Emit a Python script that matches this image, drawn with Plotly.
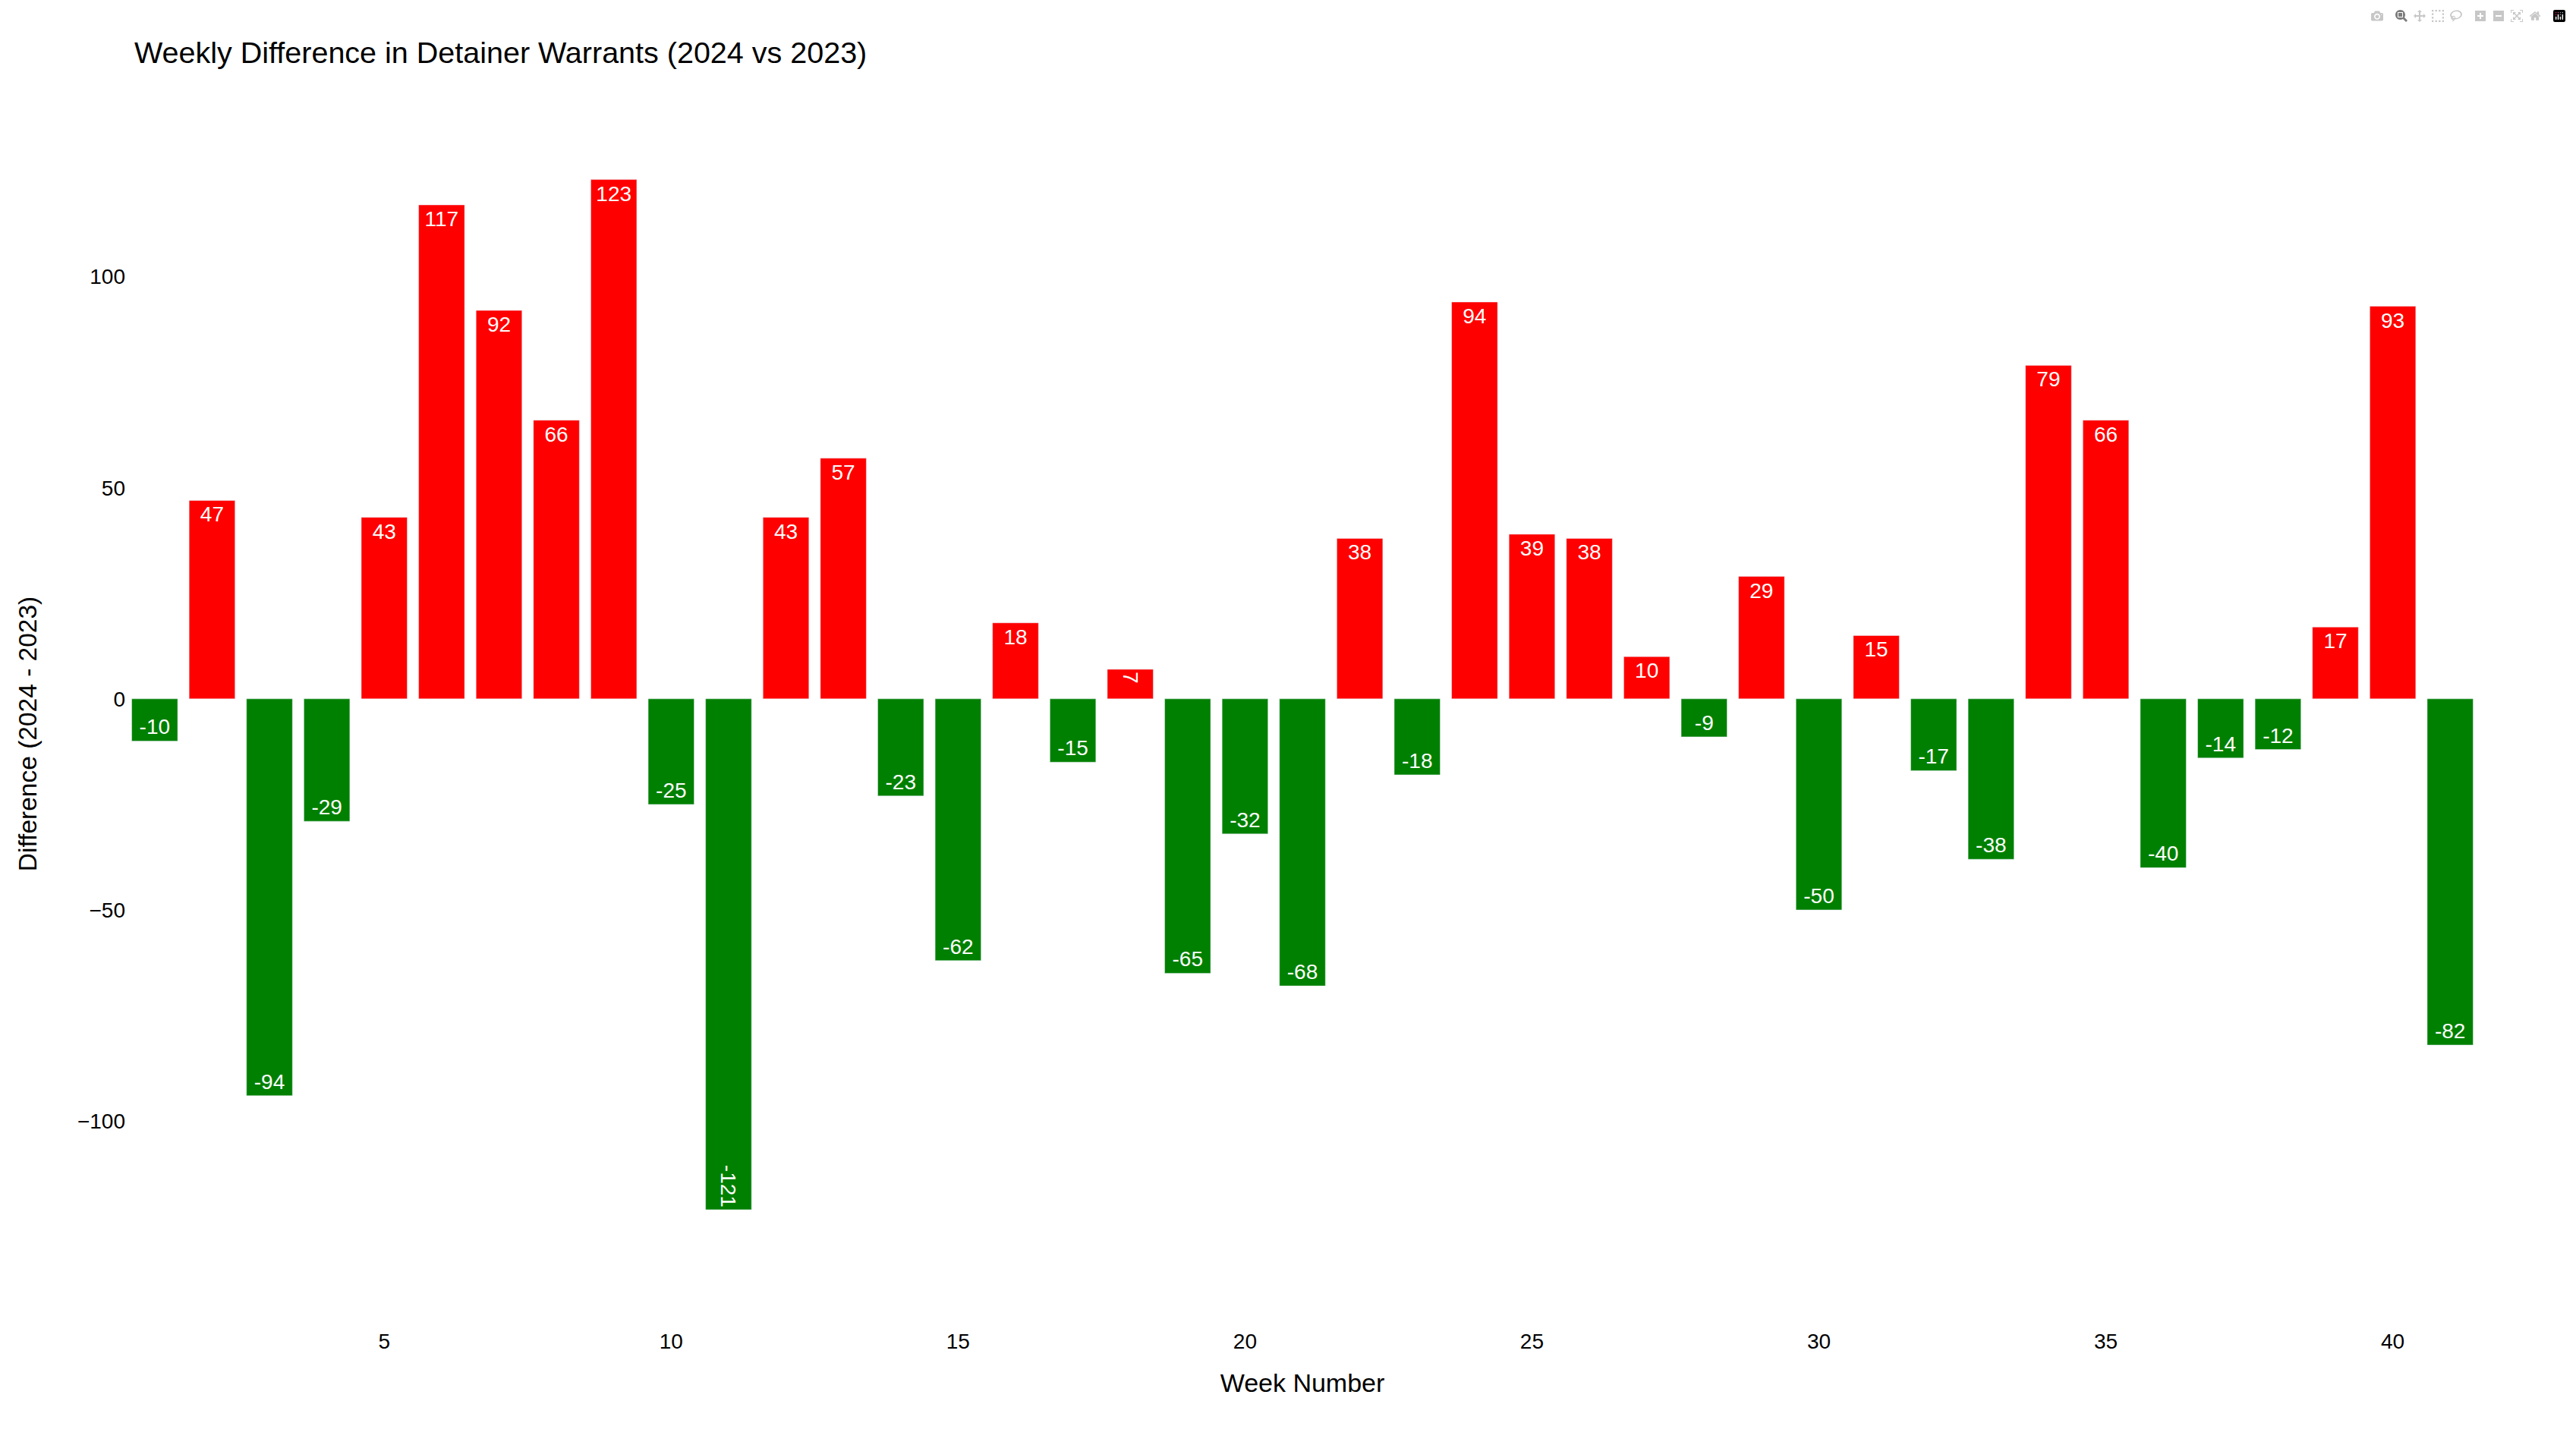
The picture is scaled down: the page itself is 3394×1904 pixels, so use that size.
import plotly.graph_objects as go

# weekly difference
weeks = list(range(1, 42))
diff = [-10, 47, -94, -29, 43, 117, 92, 66, 123, -25, -121, 43, 57, -23, -62, 18, -15, 7, -65, -32, -68,
        38, -18, 94, 39, 38, 10, -9, 29, -50, 15, -17, -38, 79, 66, -40, -14, -12, 17, 93, -82]
rotated_weeks = [11, 18]  # labels that run along the bar in the reference

font_family = 'Liberation Sans'


def bar_trace(selected, angle):
    vals = [diff[w - 1] for w in selected]
    return go.Bar(
        x=selected, y=vals, width=0.8,
        text=[str(v) for v in vals], textposition='inside', textangle=angle,
        marker_color=['red' if v > 0 else 'green' for v in vals],
        textfont=dict(size=28, color='white', family=font_family),
        showlegend=False
    )


fig = go.Figure()
fig.add_trace(bar_trace([w for w in weeks if w not in rotated_weeks], 0))
fig.add_trace(bar_trace(rotated_weeks, 90))

fig.update_layout(
    title=dict(text='Weekly Difference in Detainer Warrants (2024 vs 2023)',
               x=169 / 3378, xanchor='left', y=0.9677, yanchor='middle',
               font=dict(size=39.5, color='black', family=font_family)),
    width=3378, height=1888,
    barmode='overlay',
    plot_bgcolor='white', paper_bgcolor='white',
    font=dict(family=font_family, color='black'),
    margin=dict(t=178, l=158, r=120, b=148, autoexpand=False),
    dragmode='zoom',
)
fig.update_xaxes(
    title=dict(text='Week Number', font=dict(size=34, family=font_family), standoff=28),
    range=[0.5, 41.5], tickfont=dict(size=28, family=font_family),
    showgrid=False, zeroline=False, showline=False, ticks=''
)
fig.update_yaxes(
    title=dict(text='Difference (2024 - 2023)', font=dict(size=33.5, family=font_family), standoff=43),
    range=[-148.7, 132.1], tickfont=dict(size=28, family=font_family),
    showgrid=False, zeroline=False, showline=False, ticks=''
)

fig.write_html("out.html", config=dict(displayModeBar=True))
